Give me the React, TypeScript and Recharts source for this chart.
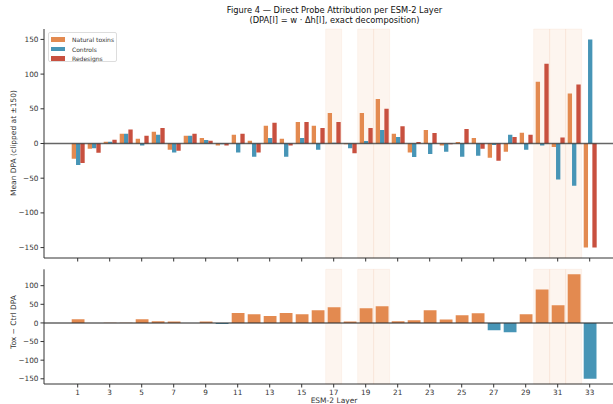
import { BarChart, Bar, XAxis, YAxis, ReferenceLine, ReferenceArea, Cell } from "recharts";

const LAYERS = [
  1, 2, 3, 4, 5, 6, 7, 8, 9, 10, 11, 12, 13, 14, 15, 16, 17,
  18, 19, 20, 21, 22, 23, 24, 25, 26, 27, 28, 29, 30, 31, 32, 33,
];

// mean DPA per layer, clipped at ±150
const TOXINS = [
  -22, -7.5, 2.5, 14, 7, 17, -9, 11, 8, -3, 12.5, 4, 25.5, 7, 31, 25.5, 44,
  -1, 44, 64, 14, -13, 19.5, -3, 2, 8, -20.5, -12, 15.5, 89, -5, 72, -150,
];
const CONTROLS = [
  -31, -7, 2.5, 14, -3, 12.5, -13, 11, 5, -1, -13, -19, 8, -19, 8, -9, 1,
  -7, 3.5, 19.5, 9.5, -19.5, -15, -12, -19, -17.5, -2, 12.5, -9, -3, -52, -61, 150,
];
const REDESIGNS = [
  -28, -13.5, 5.5, 20, 11, 22.5, -10.5, 14, 4, -3, 14, -13, 30, -3, 31, 22.5, 31,
  -14, 22.5, 50, 25, 2, 15, -1, 21, -7.5, -25, 9.5, 12.5, 115, 8.5, 85, -150,
];
const TOX_MINUS_CTRL = [
  10, -0.5, 0.5, 0.5, 10, 4.5, 4, -0.5, 3.5, -2.7, 26.5, 23, 18.5, 26.5, 23, 34, 42,
  4, 39.5, 44.5, 4.5, 7, 34, 9.5, 20.5, 26, -19.5, -25, 23.5, 90, 47.5, 130.5, -150,
];

const SHADED_LAYERS = [17, 19, 20, 30, 31, 32];
const TOP_TICKS = [-150, -100, -50, 0, 50, 100, 150];
const BOTTOM_TICKS = [-150, -100, -50, 0, 50, 100];

const ORANGE = "#e38a50";
const BLUE = "#4795b6";
const RED = "#c8503f";
const INK = "#333";
const FONT = "DejaVu Sans, sans-serif";

const topData = LAYERS.map((layer, i) => ({
  layer,
  tox: TOXINS[i],
  ctrl: CONTROLS[i],
  red: REDESIGNS[i],
}));
const diffData = LAYERS.map((layer, i) => ({ layer, diff: TOX_MINUS_CTRL[i] }));

const fmt = (v: number) => (v < 0 ? `\u2212${Math.abs(v)}` : `${v}`);
const tickStyle = { fontSize: 7.3, fill: INK, fontFamily: FONT };
const xPadding = { left: 25.7, right: 15.3 };

function Shades() {
  return (
    <>
      {SHADED_LAYERS.map((l) => (
        <ReferenceArea
          key={l}
          x1={l}
          x2={l}
          fill="#e07b39"
          fillOpacity={0.08}
          stroke="#e07b39"
          strokeOpacity={0.06}
          ifOverflow="visible"
        />
      ))}
    </>
  );
}

function LegendBox() {
  const items = [
    ["Natural toxins", ORANGE],
    ["Controls", BLUE],
    ["Redesigns", RED],
  ];
  return (
    <div
      style={{
        position: "absolute",
        left: 48,
        top: 32,
        width: 69,
        height: 30,
        border: "1px solid #ddd",
        borderRadius: 2,
        background: "rgba(255,255,255,0.8)",
        fontFamily: FONT,
        fontSize: 6,
        color: INK,
        boxSizing: "border-box",
        paddingTop: 1.5,
      }}
    >
      {items.map(([name, color]) => (
        <div key={name} style={{ display: "flex", alignItems: "center", height: 9.7 }}>
          <span style={{ display: "inline-block", width: 14, height: 4.7, background: color, marginLeft: 2, marginRight: 7 }} />
          <span>{name}</span>
        </div>
      ))}
    </div>
  );
}

export default function App() {
  return (
    <div style={{ position: "absolute", left: 0, top: 0, width: 613, height: 404, overflow: "hidden", background: "#fff", fontFamily: FONT }}>
      <div style={{ position: "absolute", left: 0, width: 613, top: 5, textAlign: "center", paddingLeft: 56, boxSizing: "border-box", fontSize: 8.3, lineHeight: "10px", color: "#111" }}>
        <div>Figure 4 — Direct Probe Attribution per ESM-2 Layer</div>
        <div>(DPA[l] = w · Δh[l], exact decomposition)</div>
      </div>

      <div style={{ position: "absolute", left: 0, top: 0 }}>
        <BarChart width={613} height={262} data={topData} margin={{ top: 29, right: 0, bottom: 0, left: 0 }} barGap={0} barSize={4.33}>
          <Shades />
          <XAxis dataKey="layer" interval={1} height={4} tick={() => <g />} tickSize={3.5} padding={xPadding} stroke={INK} />
          <YAxis domain={[-165, 165]} ticks={TOP_TICKS} width={44} tickSize={3.5} tickMargin={2} tickFormatter={fmt} tick={tickStyle} stroke={INK} allowDataOverflow />
          <Bar dataKey="tox" fill={ORANGE} isAnimationActive={false} />
          <Bar dataKey="ctrl" fill={BLUE} isAnimationActive={false} />
          <Bar dataKey="red" fill={RED} isAnimationActive={false} />
          <ReferenceLine y={0} stroke="#333" strokeWidth={1.6} strokeOpacity={0.75} />
        </BarChart>
      </div>

      <div style={{ position: "absolute", left: 0, top: 262 }}>
        <BarChart width={613} height={142} data={diffData} margin={{ top: 7.3, right: 0, bottom: 0, left: 0 }} barSize={12.8}>
          <Shades />
          <XAxis dataKey="layer" interval={1} height={20} tickSize={3.5} tickMargin={2} padding={xPadding} tick={tickStyle} stroke={INK} />
          <YAxis domain={[-164, 144]} ticks={BOTTOM_TICKS} width={44} tickSize={3.5} tickMargin={2} tickFormatter={fmt} tick={tickStyle} stroke={INK} allowDataOverflow />
          <Bar dataKey="diff" isAnimationActive={false}>
            {diffData.map((d, i) => (
              <Cell key={i} fill={d.diff >= 0 ? ORANGE : BLUE} />
            ))}
          </Bar>
          <ReferenceLine y={0} stroke="#333" strokeWidth={1.6} strokeOpacity={0.75} />
        </BarChart>
      </div>

      <LegendBox />

      <div style={{ position: "absolute", left: 13, top: 143, transform: "translate(-50%, -50%) rotate(-90deg)", whiteSpace: "nowrap", fontSize: 7.5, color: INK }}>
        Mean DPA (clipped at ±150)
      </div>
      <div style={{ position: "absolute", left: 13, top: 322, transform: "translate(-50%, -50%) rotate(-90deg)", whiteSpace: "nowrap", fontSize: 7.5, color: INK }}>
        Tox − Ctrl DPA
      </div>
      <div style={{ position: "absolute", left: 334, top: 396, transform: "translateX(-50%)", whiteSpace: "nowrap", fontSize: 7.5, color: INK }}>
        ESM-2 Layer
      </div>
    </div>
  );
}
